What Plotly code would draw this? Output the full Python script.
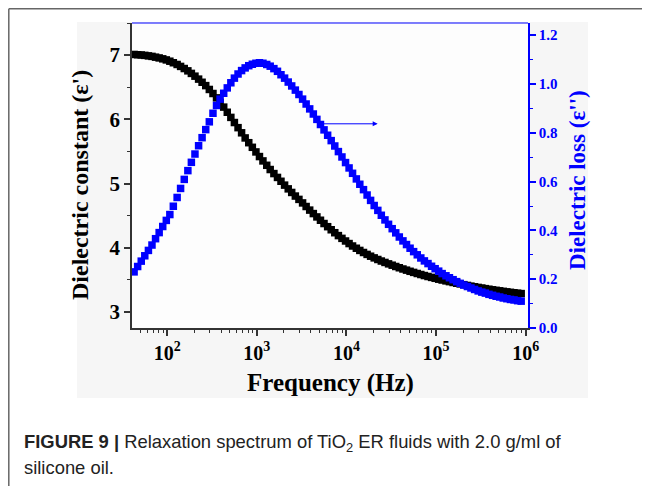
import math
import plotly.graph_objects as go

# ---- data ----
freq_hz = [42.7, 46.8, 51.3, 56.2, 61.7, 67.6, 74.1, 81.3, 89.1, 97.7,
           107, 117, 129, 141, 155, 170, 186, 204, 224, 245, 269, 295, 324, 355, 389,
           427, 468, 513, 562, 617, 676, 741, 813, 891, 977,
           1070, 1170, 1290, 1410, 1550, 1700, 1860, 2040, 2240, 2450, 2690, 2950, 3240, 3550, 3890,
           4270, 4680, 5130, 5620, 6170, 6760, 7410, 8130, 8910, 9770,
           10700, 11700, 12900, 14100, 15500, 17000, 18600, 20400, 22400, 24500,
           26900, 29500, 32400, 35500, 38900,
           42700, 46800, 51300, 56200, 61700, 67600, 74100, 81300, 89100, 97700,
           107000, 117000, 129000, 141000, 155000, 170000, 186000, 204000, 224000, 245000,
           269000, 295000, 324000, 355000, 389000,
           427000, 468000, 513000, 562000, 617000, 676000, 741000, 813000, 891000]

eps_real = [7.010, 7.006, 7.002, 6.996, 6.988, 6.980, 6.968, 6.956, 6.942, 6.925,
            6.905, 6.881, 6.854, 6.824, 6.791, 6.755, 6.715, 6.672, 6.626, 6.577,
            6.525, 6.465, 6.402, 6.334, 6.262, 6.190, 6.110, 6.030, 5.950, 5.870,
            5.790, 5.710, 5.636, 5.564, 5.492, 5.420, 5.352, 5.284, 5.218, 5.155,
            5.095, 5.035, 4.975, 4.917, 4.861, 4.805, 4.753, 4.698, 4.642, 4.586,
            4.532, 4.480, 4.428, 4.377, 4.328, 4.280, 4.234, 4.189, 4.146, 4.105,
            4.065, 4.027, 3.992, 3.958, 3.926, 3.896, 3.868, 3.842, 3.817, 3.793,
            3.771, 3.749, 3.728, 3.708, 3.688, 3.669, 3.651, 3.633, 3.616, 3.599,
            3.583, 3.567, 3.552, 3.538, 3.524, 3.510, 3.497, 3.484, 3.472, 3.459,
            3.447, 3.436, 3.425, 3.413, 3.402, 3.392, 3.382, 3.373, 3.363, 3.354,
            3.345, 3.337, 3.329, 3.321, 3.313, 3.306, 3.299, 3.292, 3.286]

eps_loss = [0.230, 0.252, 0.274, 0.296, 0.318, 0.340, 0.366, 0.391, 0.416, 0.441,
            0.465, 0.499, 0.535, 0.572, 0.609, 0.645, 0.679, 0.713, 0.747, 0.780,
            0.813, 0.845, 0.880, 0.912, 0.938, 0.962, 0.984, 1.005, 1.024, 1.041,
            1.055, 1.066, 1.075, 1.081, 1.085, 1.087, 1.085, 1.080, 1.073, 1.063,
            1.052, 1.038, 1.024, 1.008, 0.992, 0.975, 0.957, 0.938, 0.918, 0.898,
            0.877, 0.855, 0.834, 0.812, 0.790, 0.768, 0.746, 0.723, 0.701, 0.678,
            0.656, 0.634, 0.611, 0.589, 0.567, 0.545, 0.523, 0.502, 0.482, 0.462,
            0.443, 0.425, 0.407, 0.390, 0.373, 0.357, 0.342, 0.327, 0.313, 0.300,
            0.287, 0.275, 0.264, 0.253, 0.243, 0.233, 0.223, 0.214, 0.206, 0.198,
            0.190, 0.183, 0.176, 0.170, 0.164, 0.158, 0.152, 0.147, 0.143, 0.138,
            0.134, 0.130, 0.127, 0.123, 0.120, 0.117, 0.115, 0.112, 0.110]

x_tick_vals = [1e2, 1e3, 1e4, 1e5, 1e6]
x_tick_text = ["<b>10<sup>2</sup></b>", "<b>10<sup>3</sup></b>", "<b>10<sup>4</sup></b>",
               "<b>10<sup>5</sup></b>", "<b>10<sup>6</sup></b>"]
x_minor_vals = [m * 10 ** e for e in range(1, 6) for m in range(2, 10)]

arrow_from = (4780, 5.93)   # (Hz, eps')
arrow_to = (22300, 5.93)

caption_line1 = "<b>FIGURE 9 |</b> Relaxation spectrum of TiO<sub>2</sub> ER fluids with 2.0 g/ml of"
caption_line2 = "silicone oil."

# ---- figure ----
BLUE = "#0000ff"
SERIF = "Liberation Serif, Times New Roman, serif"
SANS = "Liberation Sans, Arial, sans-serif"

fig = go.Figure()
fig.add_trace(go.Scatter(x=freq_hz, y=eps_real, mode="markers", yaxis="y",
                         marker=dict(symbol="square", size=7.5, color="black", line=dict(width=0)),
                         showlegend=False))
fig.add_trace(go.Scatter(x=freq_hz, y=eps_loss, mode="markers", yaxis="y2",
                         marker=dict(symbol="square", size=7.5, color=BLUE, line=dict(width=0)),
                         showlegend=False))

# the page body adds an 8 px offset; screen coordinates below are of the final picture
OFF = 8
W, H = 650, 486
PL, PT, PW, PH = 132, 23, 396, 305          # plot area on screen
ml, mt = PL - OFF, PT - OFF
mr, mb = W - ml - PW, H - mt - PH


def px(X):
    return (X - PL) / PW


def py(Y):
    return (PT + PH - Y) / PH


shapes = [
    dict(type="rect", xref="paper", yref="paper", x0=px(77), x1=px(588), y0=py(398), y1=py(22),
         fillcolor="#f6f6f6", line=dict(width=0), layer="below"),
    dict(type="rect", xref="paper", yref="paper", x0=0, x1=1, y0=0, y1=1,
         fillcolor="#fdfdfd", line=dict(width=0), layer="below"),
    dict(type="line", xref="paper", yref="paper", x0=px(8.8), x1=px(660), y0=py(8.8), y1=py(8.8),
         line=dict(color="#666666", width=1.5)),
    dict(type="line", xref="paper", yref="paper", x0=px(8.8), x1=px(8.8), y0=py(8.8), y1=py(500),
         line=dict(color="#666666", width=1.5)),
    dict(type="line", xref="paper", yref="paper", x0=0, x1=1, y0=1, y1=1,
         line=dict(color=BLUE, width=1)),
]

annotations = [
    dict(text="<b>Dielectric constant (ε')</b>", xref="paper", yref="paper",
         x=px(80), y=py(185), textangle=-90, showarrow=False,
         font=dict(family=SERIF, size=24, color="black"), xanchor="center", yanchor="middle"),
    dict(text="<b>Dielectric loss (ε'')</b>", xref="paper", yref="paper",
         x=px(577), y=py(180), textangle=-90, showarrow=False,
         font=dict(family=SERIF, size=23, color=BLUE), xanchor="center", yanchor="middle"),
    dict(text="<b>Frequency (Hz)</b>", xref="paper", yref="paper",
         x=px(330), y=py(383), showarrow=False,
         font=dict(family=SERIF, size=25, color="black"), xanchor="center", yanchor="middle"),
    dict(text=caption_line1, xref="paper", yref="paper", x=px(22), y=py(443), showarrow=False,
         font=dict(family=SANS, size=18.4, color="#222222"), xanchor="left", yanchor="middle"),
    dict(text=caption_line2, xref="paper", yref="paper", x=px(22), y=py(467), showarrow=False,
         font=dict(family=SANS, size=18.4, color="#222222"), xanchor="left", yanchor="middle"),
    dict(x=math.log10(arrow_to[0]), y=arrow_to[1], ax=math.log10(arrow_from[0]), ay=arrow_from[1],
         xref="x", yref="y", axref="x", ayref="y", text="", showarrow=True,
         arrowhead=2, arrowsize=1, arrowwidth=1, arrowcolor=BLUE),
]

fig.update_layout(
    width=W, height=H,
    margin=dict(l=ml, r=mr, t=mt, b=mb, pad=0),
    paper_bgcolor="white",
    plot_bgcolor="rgba(0,0,0,0)",
    showlegend=False,
    shapes=shapes,
    annotations=annotations,
    xaxis=dict(type="log", range=[1.607, 6.026], showgrid=False, zeroline=False,
               showline=True, linecolor="#333333", linewidth=1.5, mirror=False,
               tickmode="array", tickvals=x_tick_vals, ticktext=x_tick_text,
               ticks="outside", ticklen=6, tickwidth=1.5, tickcolor="#333333",
               tickfont=dict(family=SERIF, size=20, color="black", weight="bold"),
               minor=dict(tickmode="array", tickvals=x_minor_vals, ticks="outside",
                          ticklen=3, tickwidth=1.2, tickcolor="#333333", showgrid=False)),
    yaxis=dict(range=[2.75, 7.5], showgrid=False, zeroline=False,
               showline=True, linecolor="#333333", linewidth=1.5,
               tickmode="linear", tick0=3, dtick=1,
               ticks="outside", ticklen=6, tickwidth=1.5, tickcolor="#333333",
               tickfont=dict(family=SERIF, size=21, color="black", weight="bold"),
               minor=dict(dtick=0.5, ticks="outside", ticklen=3, tickwidth=1.2,
                          tickcolor="#333333", showgrid=False)),
    yaxis2=dict(range=[0, 1.25], overlaying="y", side="right", showgrid=False, zeroline=False,
                showline=True, linecolor=BLUE, linewidth=1.5,
                tickmode="linear", tick0=0, dtick=0.2, tickformat=".1f",
                ticks="outside", ticklen=6, tickwidth=1.5, tickcolor=BLUE,
                tickfont=dict(family=SERIF, size=15, color=BLUE, weight="bold"),
                minor=dict(dtick=0.1, ticks="outside", ticklen=3, tickwidth=1.2,
                           tickcolor=BLUE, showgrid=False)),
)

fig.write_html("out.html")
